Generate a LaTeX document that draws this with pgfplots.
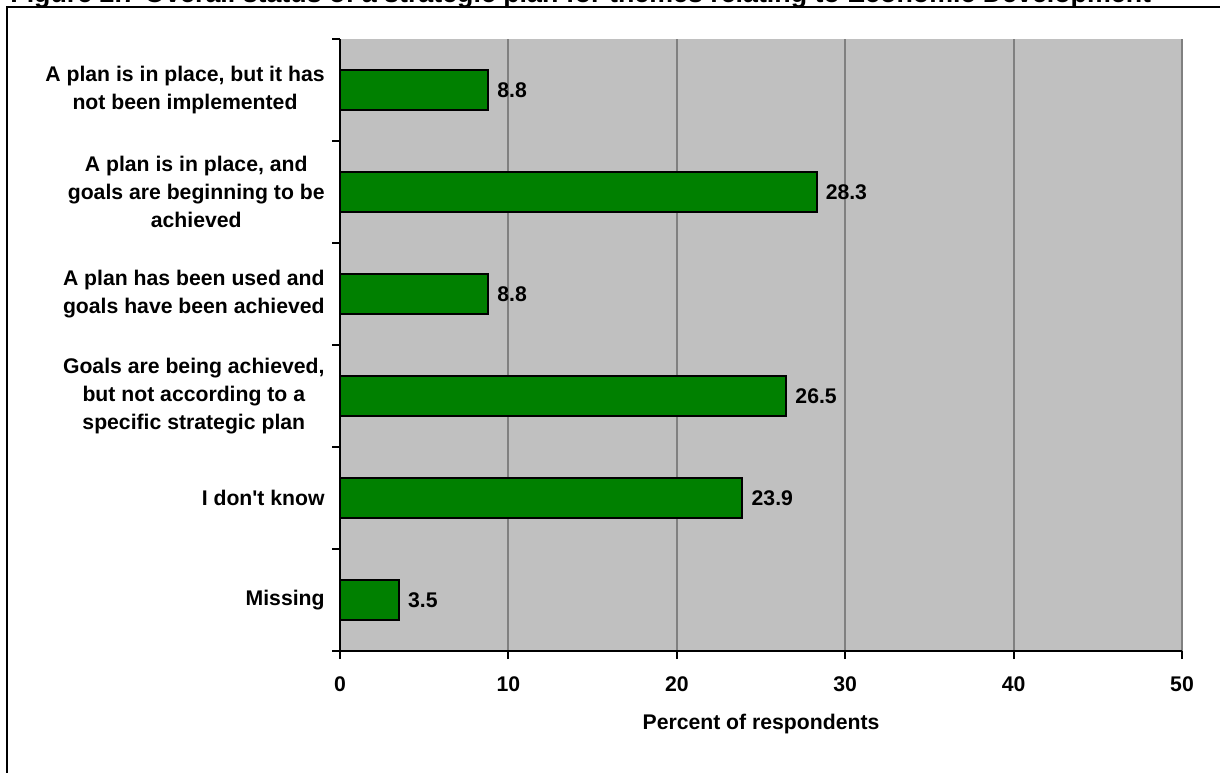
\documentclass[border=0pt]{standalone}
\usepackage{pgfplots}
\pgfplotsset{compat=1.18}
\usepackage{fontspec}
\setmainfont{Liberation Sans}
\definecolor{bargreen}{HTML}{008000}
\definecolor{plotgray}{HTML}{C0C0C0}
\definecolor{gridgray}{HTML}{808080}
\newcommand\cf{\fontsize{10.6}{14}\selectfont\bfseries}

\begin{document}
\begin{tikzpicture}
\path[use as bounding box] (0,0) rectangle (610pt,386pt);
\clip (0,0) rectangle (610pt,386pt);
% title, cut off at the top as in the scan
\node[anchor=base west, inner sep=0pt, font=\fontsize{13.4}{16}\selectfont\bfseries]
  at (5pt,384.5pt) {Figure 2.7 Overall status of a strategic plan for themes relating to Economic Development};
\draw[line width=1pt] (3.5pt,-20pt) -- (3.5pt,382.5pt) -- (640pt,382.5pt);
\begin{axis}[
  at={(170pt,60.5pt)}, anchor=south west,
  scale only axis, width=421pt, height=306pt,
  xbar, bar width=20pt,
  xmin=0, xmax=50, ymin=-0.5, ymax=5.5,
  axis x line=bottom, axis y line=left,
  axis line style={-, line width=1pt, black},
  axis background/.style={fill=plotgray},
  xtick={0,10,...,50},
  xmajorgrids, grid style={gridgray, line width=1pt},
  tick align=outside, major tick length=4pt,
  tick style={black, line width=1pt},
  ytick={-0.5,0.5,...,5.5}, yticklabels={,,,,,,},
  extra y ticks={0,...,5},
  extra y tick labels={
    Missing,
    I don\textquotesingle t know,
    {Goals are being achieved,\\but not according to a\\specific strategic plan},
    {A plan has been used and\\goals have been achieved},
    {A plan is in place, and\\goals are beginning to be\\achieved},
    {A plan is in place, but it has\\not been implemented}},
  extra y tick style={major tick length=0pt},
  yticklabel style={font=\cf, align=center, inner sep=0pt, xshift=-7.5pt},
  xticklabel style={font=\cf, inner sep=0pt, yshift=-8.5pt},
  xlabel={Percent of respondents},
  xlabel style={font=\cf, at={(axis description cs:0.5,0)}, anchor=base, yshift=-39pt},
  /pgf/number format/assume math mode=true,
  nodes near coords={\pgfmathprintnumber[fixed, fixed zerofill, precision=1]{\pgfplotspointmeta}},
  point meta=x,
  nodes near coords style={font=\cf, anchor=west, inner sep=0pt, xshift=4.1pt},
]
\addplot[fill=bargreen, draw=black, line width=1pt]
  coordinates {(3.5,0) (23.9,1) (26.5,2) (8.8,3) (28.3,4) (8.8,5)};
\end{axis}
\end{tikzpicture}
\end{document}
